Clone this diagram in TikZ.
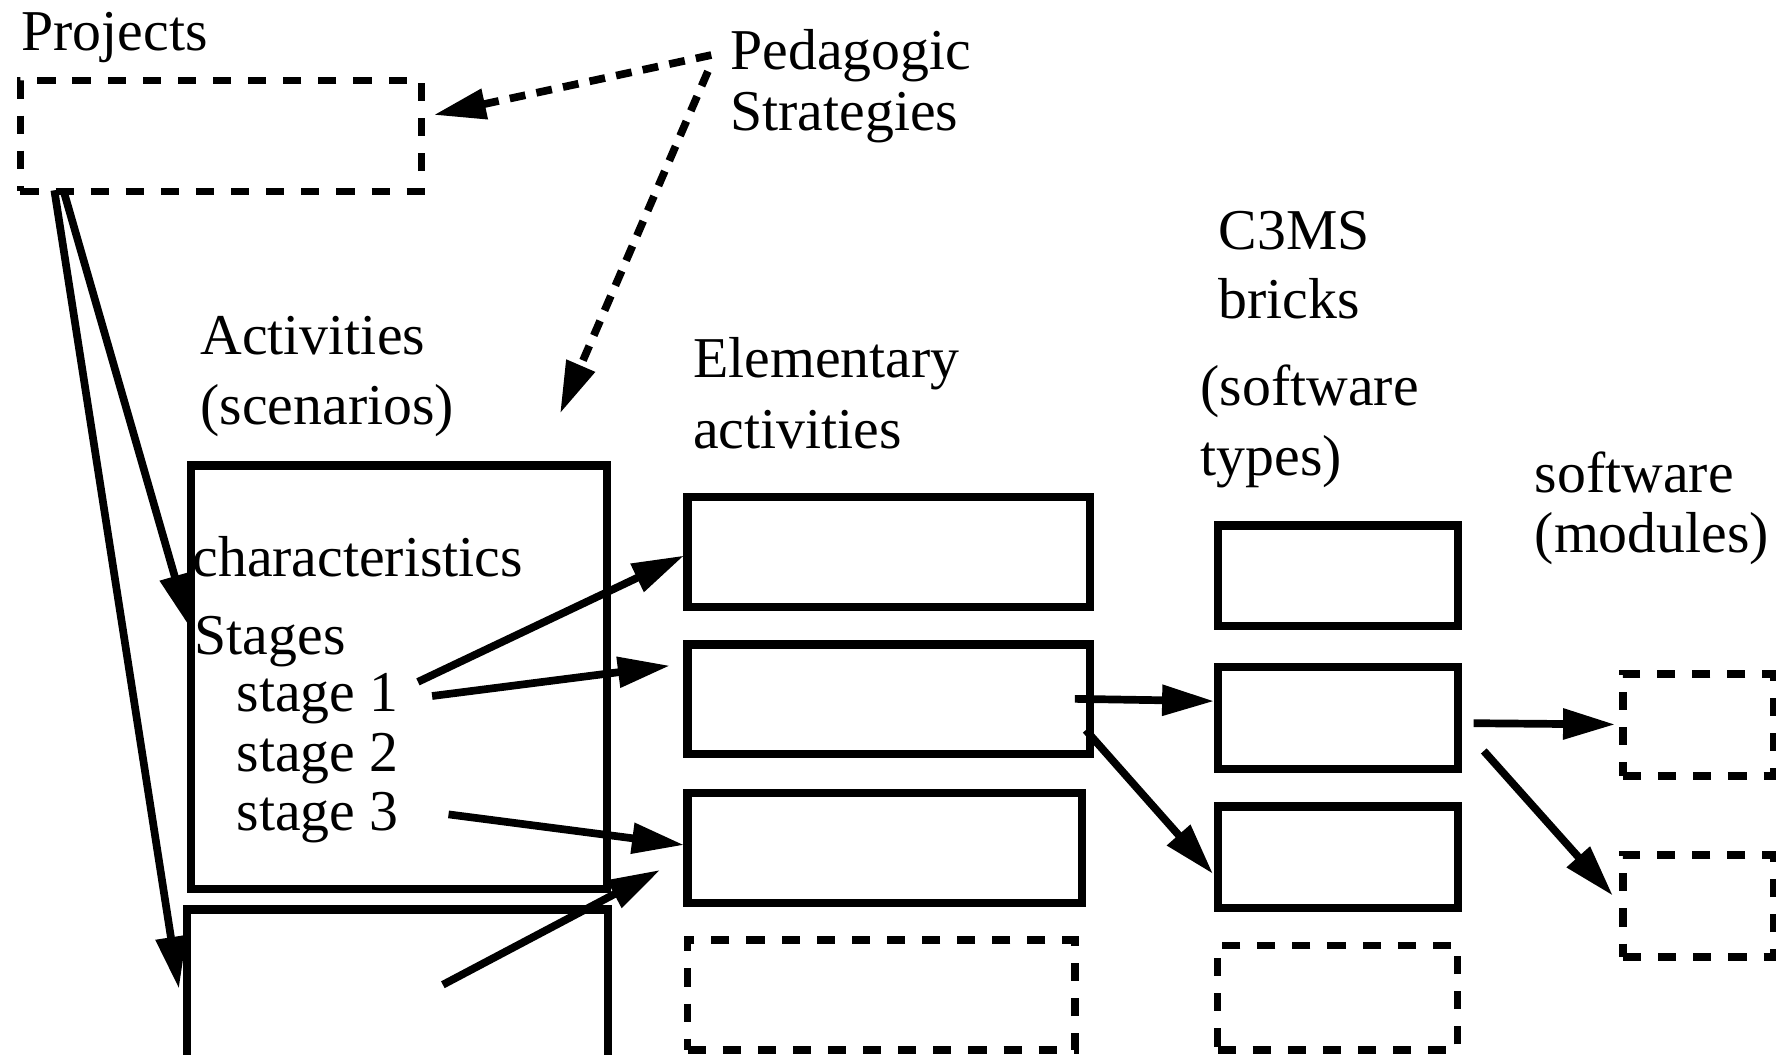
\documentclass[tikz,border=0pt]{standalone}
\usepackage{fontspec}
\setmainfont{Liberation Serif}
\usetikzlibrary{arrows.meta}
\begin{document}
\begin{tikzpicture}[x=1pt,y=-1pt,
  lbl/.style={anchor=base west, inner sep=0pt, outer sep=0pt, font=\fontsize{51}{60}\selectfont},
  sbox/.style={draw, line width=7.2pt, inner sep=0pt, outer sep=0pt},
  dbox/.style={draw, line width=6.5pt, inner sep=0pt, outer sep=0pt, dash pattern=on 16pt off 15pt},
  arr/.style={line width=6.8pt, -{Triangle[length=46pt,width=26pt]}},
  darr/.style={arr, dash pattern=on 14pt off 10pt}]
\useasboundingbox (0,0) rectangle (1568,931);
\clip (0,0) rectangle (1568,931);
% labels
\node[lbl] (tproj) at (19,45) {Projects};
\node[lbl] (tped1) at (645,61) {Pedagogic};
\node[lbl] (tped2) at (645,115) {Strategies};
\node[lbl] (tact1) at (177,313) {Activities};
\node[lbl] (tact2) at (177,375) {(scenarios)};
\node[lbl] (tea1) at (612,333) {Elementary};
\node[lbl] (tea2) at (612,396) {activities};
\node[lbl] (tc1) at (1076,220) {C3MS};
\node[lbl] (tc2) at (1076,281) {bricks};
\node[lbl] (tc3) at (1060,358) {(software};
\node[lbl] (tc4) at (1060,420) {types)};
\node[lbl] (tsw1) at (1355,435) {software};
\node[lbl] (tsw2) at (1355,488) {(modules)};
\node[lbl] (tchar) at (170,509) {characteristics};
\node[lbl] (tstg) at (172,578) {Stages};
\node[lbl] (ts1) at (209,628) {stage 1};
\node[lbl] (ts2) at (209,681) {stage 2};
\node[lbl] (ts3) at (209,733) {stage 3};
% boxes
\node[dbox, minimum width=354pt, minimum height=98pt] (proj) at (195,120) {};
\node[sbox, minimum width=367pt, minimum height=374pt] (act) at (352.5,598) {};
\node[sbox, minimum width=372pt, minimum height=197pt] (act2) at (351,901.5) {};
\node[sbox, minimum width=355pt, minimum height=97pt] (ea1) at (784.5,487.5) {};
\node[sbox, minimum width=355pt, minimum height=97pt] (ea2) at (784.5,617.5) {};
\node[sbox, minimum width=348pt, minimum height=97pt] (ea3) at (781,748.5) {};
\node[dbox, minimum width=342pt, minimum height=97pt] (ea4) at (778,878.5) {};
\node[sbox, minimum width=212pt, minimum height=89pt] (c1) at (1181,508.5) {};
\node[sbox, minimum width=212pt, minimum height=90pt] (c2) at (1181,634) {};
\node[sbox, minimum width=212pt, minimum height=90pt] (c3) at (1181,757) {};
\node[dbox, minimum width=212pt, minimum height=92pt] (c4) at (1181,881) {};
\node[dbox, minimum width=133pt, minimum height=90pt] (sw1) at (1499.5,640) {};
\node[dbox, minimum width=133pt, minimum height=90pt] (sw2) at (1499.5,800) {};
% connector end points
\coordinate (a1s) at (628,48.6);
\coordinate (a1e) at (383,101.5);
\coordinate (a2s) at (625,63);
\coordinate (a2e) at (494.5,365);
\coordinate (a3s) at (56,168);
\coordinate (a3e) at (167,553);
\coordinate (a4s) at (48,168);
\coordinate (a4e) at (158,873);
\coordinate (a5s) at (369,602);
\coordinate (a5e) at (604,490.5);
\coordinate (a6s) at (381.5,614.5);
\coordinate (a6e) at (591.5,587.7);
\coordinate (a7s) at (396,719);
\coordinate (a7e) at (604,746);
\coordinate (a8s) at (391,869.4);
\coordinate (a8e) at (583,768);
\coordinate (a9s) at (949,617);
\coordinate (a9e) at (1072,619);
\coordinate (a10s) at (958.6,644.6);
\coordinate (a10e) at (1071,771.6);
\coordinate (a11s) at (1301,638.5);
\coordinate (a11e) at (1426,639.6);
\coordinate (a12s) at (1310,663);
\coordinate (a12e) at (1424,790.8);
% connectors
\draw[darr] (a1s) -- (a1e);
\draw[darr] (a2s) -- (a2e);
\draw[arr] (a3s) -- (a3e);
\draw[arr] (a4s) -- (a4e);
\draw[arr] (a5s) -- (a5e);
\draw[arr] (a6s) -- (a6e);
\draw[arr] (a7s) -- (a7e);
\draw[arr] (a8s) -- (a8e);
\draw[arr] (a9s) -- (a9e);
\draw[arr] (a10s) -- (a10e);
\draw[arr] (a11s) -- (a11e);
\draw[arr] (a12s) -- (a12e);
\end{tikzpicture}
\end{document}
